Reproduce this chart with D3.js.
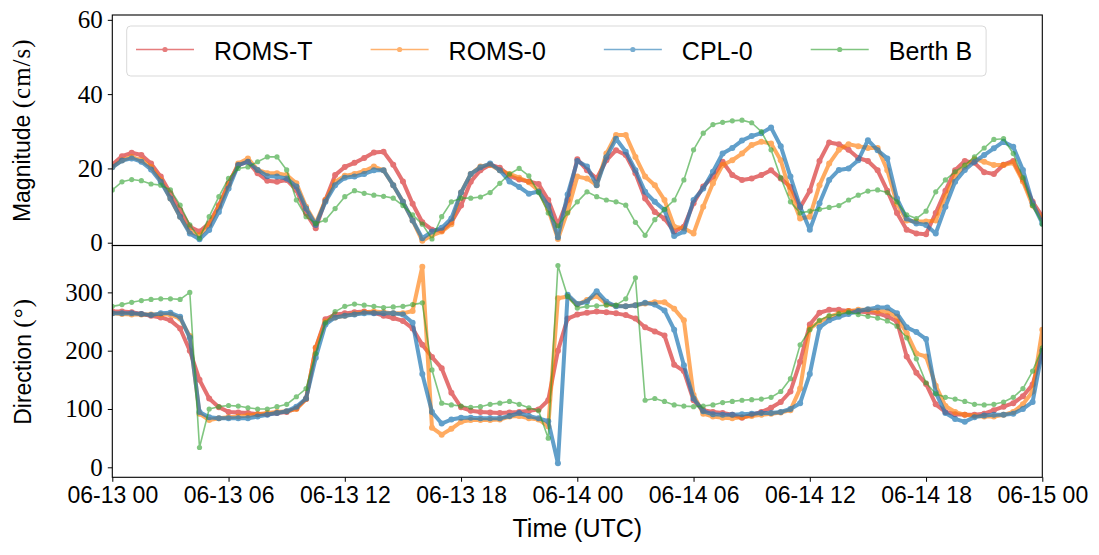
<!DOCTYPE html>
<html>
<head>
<meta charset="utf-8">
<script src="https://cdn.jsdelivr.net/npm/d3@7"></script>
<style>
  body { margin: 0; background: #fff; }
  svg { display: block; }
  .serif { font-family: "Liberation Serif", "DejaVu Serif", serif; }
  .sans { font-family: "Liberation Sans", "DejaVu Sans", sans-serif; }
</style>
</head>
<body>
<svg id="chart"></svg>
<script>
// Pas de temps des séries (30 min) à partir du 13 juin 00 UTC
const stepMinutes = 30;
const startTime = Date.UTC(2021, 5, 13, 0, 0);

const seriesNames = ["ROMS-T", "ROMS-0", "CPL-0", "Berth B"];

// Magnitude (cm/s), une ligne = 6 heures
const magRomsT = [
  21, 23.3, 24.2, 23.6, 21.3, 17.8, 13.3, 8.8, 4.3, 3, 5.2, 10.1,
  16, 20.9, 21.8, 18.7, 16.7, 16.4, 16.9, 14.2, 7.9, 3.9, 11.5, 18.2,
  20.4, 21.5, 22.8, 24.3, 24.5, 21, 16.5, 10.5, 5.5, 3.5, 3.2, 5.5,
  10, 16.4, 19.5, 21, 20.2, 18, 17, 16.5, 15.8, 11.5, 4.8, 11.5,
  22.5, 19.5, 17.3, 22.2, 24.9, 23.6, 18.7, 11.9, 8.3, 6.5, 3, 4.3,
  10.6, 15.1, 17.8, 21.8, 18.2, 16.9, 17.3, 18.2, 19.5, 17.3, 15, 9.5,
  14, 22, 27, 26.5, 25, 22.8, 22, 19.5, 14, 8, 3.5, 2.5,
  2.3, 8, 14, 19.5, 22, 21.5, 19, 18.5, 21, 22, 17, 11,
  7
];
const magRoms0 = [
  20.4, 22.2, 23.1, 22.2, 20.4, 16.9, 11.9, 7, 3, 2, 4.8, 9.7,
  15.5, 21.3, 22.7, 19.6, 18.7, 18.7, 18.2, 16, 9.7, 5.2, 11.5, 16.4,
  18, 18.5, 19.3, 20.5, 19.5, 15.5, 11, 6, 0.5, 2, 3, 5,
  13.5, 18.5, 20.5, 21, 19.5, 18.5, 17.5, 16.3, 14, 9, 1, 8.5,
  17.8, 17.3, 15.5, 24, 29, 29, 23.1, 17.8, 15.5, 11.5, 4.3, 3.9,
  2.5, 9.7, 16, 20.9, 22.2, 24, 26.3, 27.2, 26.7, 22.2, 13.3, 6.5,
  7, 15.5, 21.3, 25, 26.5, 26, 25.5, 25.5, 19.5, 10.5, 6, 5.7,
  5.7, 6, 12.5, 18, 20.5, 22.5, 21.8, 20.9, 20.9, 21.5, 16.5, 10,
  6.5
];
const magCpl0 = [
  20.3, 22.1, 22.7, 21.8, 19.7, 16.4, 11.9, 7, 2.5, 0.9, 3.4, 8.3,
  14.6, 20.9, 21.8, 19.6, 17.9, 17.8, 17.3, 15.1, 9.2, 4.8, 11, 15.5,
  17.5, 17.8, 18.5, 19.5, 19.5, 15.5, 11, 6, 1.2, 3, 4, 6.5,
  13.5, 18.5, 20.3, 21.3, 19.5, 16.5, 15, 13.2, 13.8, 10, 1.5, 13,
  22, 20.5, 15.5, 23, 28, 24.5, 19.5, 13.7, 11, 8.8, 1.8, 3,
  11.5, 14.6, 19.1, 24, 25.5, 27.5, 28.7, 29.5, 31, 26, 17.8, 9.7,
  3.5, 10.6, 16.9, 19.6, 20, 22.2, 27.6, 24.9, 22.7, 11.9, 6.5, 5.2,
  4.8, 2.5, 9.7, 16.4, 19.6, 21.8, 23.6, 25.4, 27.2, 25.8, 19.6, 10.6,
  5.2
];
const magBerthB = [
  14.2, 16.4, 17, 16.7, 15.8, 15.5, 14.2, 10.1, 4.8, 1.2, 7, 12.4,
  17.3, 20, 20.4, 21.8, 23.1, 23.1, 19.6, 11.5, 7, 5.2, 6.1, 9.2,
  12.4, 14, 13.3, 12.8, 12.5, 12, 10, 7.5, 5, 1, 7, 11,
  12, 12, 12.3, 13.5, 16, 18.5, 20, 18, 13.5, 8, 4.5, 8,
  11, 13.7, 12.4, 11.5, 11, 10.1, 5.5, 2, 6.2, 9, 11.5, 16.9,
  25, 29.5, 31.8, 32.4, 32.8, 33, 32.3, 29.9, 25, 17.5, 11, 8,
  8.5, 9, 9.5, 10, 11.5, 12.8, 13.9, 14.2, 13.5, 11, 7.5, 6.5,
  8.5, 13.7, 16.9, 19.1, 20.9, 23.1, 25.5, 27.8, 28, 24, 17.5, 10,
  5
];

// Direction (degrés)
const dirRomsT = [
  267, 267, 266, 263, 260, 257, 252, 238, 200, 150, 118, 103,
  95, 94, 93, 91, 91, 93, 95, 101, 117, 205, 254, 262,
  264, 266, 267, 265, 260, 256, 251, 238, 210, 189, 170, 128,
  103, 97, 95, 94, 93, 94, 95, 97, 99, 115, 200, 255,
  262, 265, 267, 266, 264, 261, 255, 240, 233, 226, 176, 165,
  115, 98, 95, 93, 90, 85, 90, 95, 102, 112, 130, 181,
  245, 265, 270, 270, 268, 267, 266, 264, 259, 250, 190, 162,
  143, 108, 95, 91, 90, 90, 92, 98, 104, 110, 122, 142,
  200
];
const dirRoms0 = [
  264, 263, 262, 262, 262, 262, 262, 255, 225, 92, 81, 84,
  86, 87, 89, 91, 93, 95, 96, 100, 117, 205, 250, 257,
  260, 263, 266, 267, 266, 264, 264, 268, 344, 68, 56, 66,
  78, 81, 81, 81, 82, 87, 88, 84, 82, 70, 290, 293,
  279, 287, 294, 280, 277, 276, 278, 281, 283, 283, 272, 252,
  124, 92, 87, 85, 84, 86, 88, 90, 92, 94, 98, 135,
  238, 250, 258, 264, 268, 270, 270, 268, 267, 258, 230, 195,
  190, 140, 105, 95, 90, 88, 87, 87, 90, 95, 108, 130,
  236
];
const dirCpl0 = [
  264, 264, 264, 263, 261, 264, 265, 258, 222, 95, 86, 84,
  84, 84, 84, 87, 90, 93, 96, 104, 118, 188, 245, 257,
  260, 262, 264, 264, 264, 264, 262, 248, 160, 95, 75, 82,
  85, 85, 84, 84, 84, 88, 93, 88, 84, 79, 7, 296,
  280, 284, 302, 284, 276, 276, 278, 282, 279, 269, 236, 175,
  118, 96, 91, 90, 90, 91, 92, 93, 93, 95, 100, 110,
  160, 240, 252, 258, 263, 268, 271, 274, 274, 264, 240, 232,
  220, 128, 93, 83, 78, 86, 89, 90, 90, 92, 100, 112,
  200
];
const dirBerthB = [
  276, 279, 283, 286, 288, 289, 289, 288, 300, 34, 100, 104,
  106, 105, 102, 100, 100, 104, 108, 121, 135, 195, 248, 267,
  276, 280, 278, 276, 274, 275, 276, 279, 282, 167, 110, 107,
  105, 103, 104, 108, 110, 113, 108, 102, 97, 50, 346, 293,
  273, 276, 277, 278, 278, 289, 325, 115, 118, 113, 107, 105,
  104, 105, 107, 111, 113, 115, 116, 117, 120, 130, 152, 210,
  236, 252, 260, 263, 266, 262, 259, 256, 251, 242, 222, 186,
  145, 126, 120, 117, 113, 108, 107, 108, 112, 120, 135, 165,
  205
];

// Graduations
const magTicks = [0, 20, 40, 60];
const dirTicks = [0, 100, 200, 300];
const tickHours = [0, 6, 12, 18, 24, 30, 36, 42, 48];

// Styles des séries (couleurs tab10)
const seriesColors = ["#d62728", "#ff7f0e", "#1f77b4", "#2ca02c"];
const seriesLineWidths = [4, 4, 4, 1.6];
const seriesDotRadius = [3, 3, 3, 2.6];
const seriesOpacity = [0.65, 0.65, 0.7, 0.6];

const width = 1099,
  height = 555;

const plotLeft = 112.3,
  plotRight = 1042.3;
const magTop = 15,
  midLine = 245.5,
  dirBottom = 477.3;

const serifFamily = '"Liberation Serif", "DejaVu Serif", serif';
const sansFamily = '"Liberation Sans", "DejaVu Sans", sans-serif';

const times = magRomsT.map((d, i) => new Date(startTime + i * stepMinutes * 60000));

const svg = d3.select("#chart").attr("width", width).attr("height", height);

const x = d3
  .scaleUtc()
  .domain([times[0], times[times.length - 1]])
  .range([plotLeft, plotRight]);

const yMag = d3.scaleLinear().domain([-0.75, 61.3]).range([midLine, magTop]);
const yDir = d3.scaleLinear().domain([-17.15, 380.4]).range([dirBottom, midLine]);

// Dessine une série : ligne + points
function drawSeries(g, values, y, i) {
  const line = d3
    .line()
    .x((d, k) => x(times[k]))
    .y(d => y(d));

  const sg = g.append("g").attr("opacity", seriesOpacity[i]);

  sg.append("path")
    .datum(values)
    .attr("d", line)
    .attr("fill", "none")
    .attr("stroke", seriesColors[i])
    .attr("stroke-width", seriesLineWidths[i])
    .attr("stroke-linejoin", "round");

  sg.selectAll("circle")
    .data(values)
    .enter()
    .append("circle")
    .attr("cx", (d, k) => x(times[k]))
    .attr("cy", d => y(d))
    .attr("r", seriesDotRadius[i])
    .attr("fill", seriesColors[i]);
}

// Panneau : séries, axe y, cadre, titre
function drawPanel(id, y, seriesList, ticks, top, bottom, mainLabel, unitLabel, labelX) {
  svg.append("clipPath")
    .attr("id", id)
    .append("rect")
    .attr("x", plotLeft)
    .attr("y", top)
    .attr("width", plotRight - plotLeft)
    .attr("height", bottom - top);

  const g = svg.append("g").attr("clip-path", `url(#${id})`);
  seriesList.forEach((values, i) => drawSeries(g, values, y, i));

  const axis = svg
    .append("g")
    .attr("transform", `translate(${plotLeft},0)`)
    .call(d3.axisLeft(y).tickValues(ticks).tickSize(4.5).tickPadding(5));
  axis.attr("font-family", null);
  axis.select(".domain").remove();
  axis.selectAll("line").attr("stroke", "#000").attr("stroke-width", 1);
  axis.selectAll("text")
    .attr("class", "serif")
    .style("font-size", "25px")
    .attr("fill", "#000");

  svg.append("rect")
    .attr("x", plotLeft)
    .attr("y", top)
    .attr("width", plotRight - plotLeft)
    .attr("height", bottom - top)
    .attr("fill", "none")
    .attr("stroke", "#000")
    .attr("stroke-width", 1.1);

  const label = svg
    .append("text")
    .attr("transform", `translate(${labelX},${(top + bottom) / 2}) rotate(-90)`)
    .attr("text-anchor", "middle")
    .style("font-size", "23px")
    .attr("fill", "#000");
  label.append("tspan").style("font-family", sansFamily).text(mainLabel + " ");
  label.append("tspan")
    .style("font-family", serifFamily)
    .style("font-size", "25px")
    .attr("letter-spacing", "1px")
    .text(unitLabel);
}

drawPanel("clip-mag", yMag, [magRomsT, magRoms0, magCpl0, magBerthB], magTicks,
  magTop, midLine, "Magnitude", "(cm/s)", 30);
drawPanel("clip-dir", yDir, [dirRomsT, dirRoms0, dirCpl0, dirBerthB], dirTicks,
  midLine, dirBottom, "Direction", "(°)", 31);

// Axe du temps
const xAxis = svg
  .append("g")
  .attr("transform", `translate(0,${dirBottom})`)
  .call(
    d3
      .axisBottom(x)
      .tickValues(tickHours.map(h => new Date(startTime + h * 3600000)))
      .tickFormat(d3.utcFormat("%m-%d %H"))
      .tickSize(4.5)
      .tickPadding(5)
  );
xAxis.attr("font-family", null);
xAxis.select(".domain").remove();
xAxis.selectAll("line").attr("stroke", "#000").attr("stroke-width", 1);
xAxis.selectAll("text")
  .attr("class", "sans")
  .style("font-size", "23px")
  .attr("fill", "#000");

svg.append("text")
  .attr("class", "sans")
  .attr("x", (plotLeft + plotRight) / 2)
  .attr("y", 537)
  .attr("text-anchor", "middle")
  .style("font-size", "25px")
  .attr("fill", "#000")
  .text("Time (UTC)");

// Légende
function addLegend() {
  const legendLeft = 126.7,
    legendTop = 26,
    legendHeight = 50;
  const legendGroup = svg.append("g").attr("class", "legend");
  const box = legendGroup
    .append("rect")
    .attr("x", legendLeft)
    .attr("y", legendTop)
    .attr("height", legendHeight)
    .attr("rx", 4)
    .attr("fill", "#fff")
    .attr("fill-opacity", 0.8)
    .attr("stroke", "#d9d9d9")
    .attr("stroke-width", 1);

  let cursor = 136;
  seriesNames.forEach((name, i) => {
    const item = legendGroup.append("g").attr("opacity", 0.6);
    item.append("line")
      .attr("x1", cursor)
      .attr("x2", cursor + 58)
      .attr("y1", 49.5)
      .attr("y2", 49.5)
      .attr("stroke", seriesColors[i])
      .attr("stroke-width", 1.6);
    item.append("circle")
      .attr("cx", cursor + 29)
      .attr("cy", 49.5)
      .attr("r", 2.6)
      .attr("fill", seriesColors[i]);
    const txt = legendGroup
      .append("text")
      .attr("class", "sans")
      .attr("x", cursor + 78)
      .attr("y", 59.5)
      .style("font-size", "25px")
      .attr("fill", "#000")
      .text(name);
    const end = cursor + 78 + txt.node().getComputedTextLength();
    cursor = end + 58;
    if (i === seriesNames.length - 1) {
      box.attr("width", end + 14 - legendLeft);
    }
  });
}

addLegend();
</script>
</body>
</html>
